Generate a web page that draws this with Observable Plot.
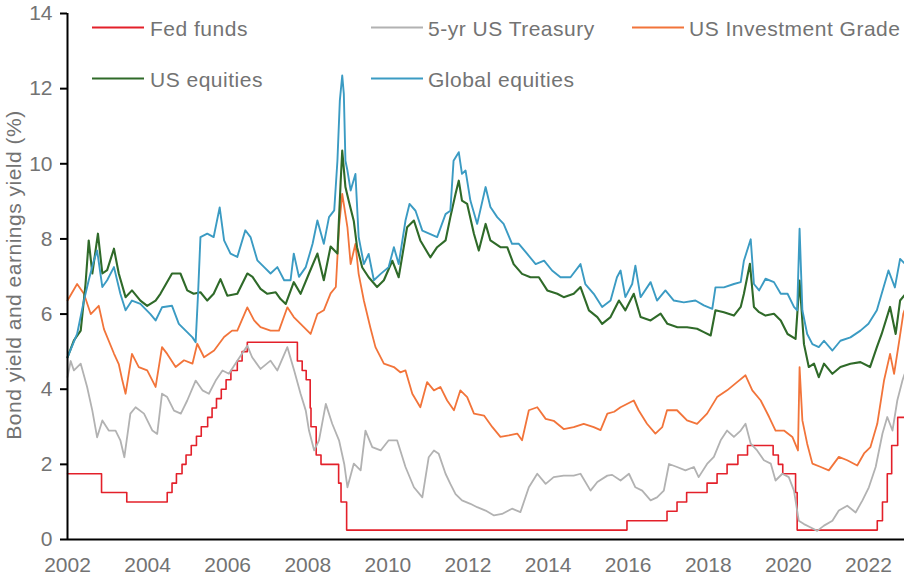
<!DOCTYPE html>
<html>
<head>
<meta charset="utf-8">
<script src="https://cdn.jsdelivr.net/npm/d3@7"></script>
<script src="https://cdn.jsdelivr.net/npm/@observablehq/plot@0.6"></script>
<style>
  html, body { margin: 0; padding: 0; background: #fff; }
  #wrap { position: relative; width: 904px; height: 580px; font-family: "Liberation Sans", Arial, sans-serif; }
  #overlay { position: absolute; left: 0; top: 0; pointer-events: none; }
  #overlay text { font-family: "Liberation Sans", Arial, sans-serif; fill: #737373; }
</style>
</head>
<body>
<div id="wrap"></div>
<script>
// ---- Data (decimal year, %) ----
const seriesNames = ["Fed funds", "5-yr US Treasury", "US Investment Grade", "US equities", "Global equities"];
const seriesColors = ["#e3202a", "#b2b2b2", "#f2743a", "#2f6a29", "#3b9bc3"];
const xTicks = [2002, 2004, 2006, 2008, 2010, 2012, 2014, 2016, 2018, 2020, 2022];
const yTicks = [0, 2, 4, 6, 8, 10, 12, 14];

const fedFunds = [
  [2002.0,1.75],[2002.85,1.25],[2003.48,1.00],[2004.49,1.25],[2004.61,1.50],[2004.72,1.75],
  [2004.86,2.00],[2004.96,2.25],[2005.09,2.50],[2005.22,2.75],[2005.34,3.00],[2005.50,3.25],
  [2005.61,3.50],[2005.72,3.75],[2005.84,4.00],[2005.96,4.25],[2006.08,4.50],[2006.24,4.75],
  [2006.36,5.00],[2006.49,5.25],[2007.74,4.75],[2007.86,4.50],[2007.96,4.25],[2008.06,3.50],
  [2008.08,3.00],[2008.21,2.25],[2008.33,2.00],[2008.77,1.50],[2008.83,1.00],[2008.97,0.25],
  [2015.97,0.50],[2016.97,0.75],[2017.22,1.00],[2017.46,1.25],[2017.97,1.50],[2018.22,1.75],
  [2018.47,2.00],[2018.74,2.25],[2018.98,2.50],[2019.62,2.25],[2019.75,2.00],[2019.86,1.75],
  [2020.18,1.25],[2020.22,0.25],[2022.22,0.50],[2022.35,1.00],[2022.47,1.75],[2022.58,2.50],
  [2022.73,3.25],[2022.9,3.25]
];

const treasury5y = [
  [2002.0,4.32],[2002.08,4.75],[2002.16,4.5],[2002.33,4.68],[2002.49,4.06],[2002.62,3.43],[2002.74,2.72],
  [2002.87,3.17],[2003.03,2.9],[2003.2,2.9],[2003.32,2.64],[2003.42,2.19],[2003.57,3.35],
  [2003.7,3.52],[2003.91,3.35],[2004.12,2.9],[2004.24,2.81],[2004.36,3.88],[2004.49,3.79],
  [2004.66,3.43],[2004.83,3.35],[2004.99,3.7],[2005.2,4.23],[2005.37,3.97],[2005.53,3.88],
  [2005.7,4.23],[2005.87,4.5],[2006.03,4.41],[2006.24,4.76],[2006.49,5.16],[2006.61,4.85],
  [2006.82,4.54],[2007.07,4.76],[2007.24,4.5],[2007.49,5.12],[2007.66,4.5],[2007.82,3.88],
  [2007.95,3.43],[2008.03,2.9],[2008.16,2.37],[2008.28,2.64],[2008.45,3.61],[2008.61,3.08],
  [2008.78,2.64],[2008.91,2.01],[2008.99,1.39],[2009.15,2.02],[2009.32,1.84],[2009.44,2.9],
  [2009.61,2.46],[2009.82,2.37],[2010.02,2.64],[2010.23,2.64],[2010.44,1.93],[2010.65,1.39],
  [2010.86,1.12],[2011.02,2.19],[2011.15,2.37],[2011.27,2.28],[2011.44,1.75],[2011.56,1.48],
  [2011.69,1.21],[2011.85,1.04],[2012.06,0.95],[2012.23,0.86],[2012.44,0.77],[2012.65,0.64],
  [2012.85,0.68],[2013.1,0.82],[2013.31,0.73],[2013.52,1.39],[2013.73,1.75],[2013.94,1.48],
  [2014.14,1.66],[2014.39,1.7],[2014.64,1.7],[2014.81,1.75],[2015.06,1.3],[2015.23,1.53],
  [2015.48,1.7],[2015.6,1.72],[2015.81,1.57],[2016.02,1.75],[2016.18,1.39],[2016.35,1.3],
  [2016.56,1.04],[2016.72,1.12],[2016.89,1.3],[2017.02,2.01],[2017.22,1.93],[2017.43,1.84],
  [2017.64,1.93],[2017.76,1.66],[2017.97,2.01],[2018.14,2.2],[2018.31,2.64],[2018.47,2.9],
  [2018.64,2.73],[2018.81,2.9],[2018.93,3.08],[2019.06,2.55],[2019.22,2.37],[2019.39,2.11],
  [2019.56,2.02],[2019.68,1.57],[2019.85,1.75],[2020.01,1.66],[2020.14,1.3],[2020.26,0.5],
  [2020.39,0.41],[2020.56,0.32],[2020.72,0.23],[2020.89,0.37],[2021.1,0.5],[2021.26,0.77],
  [2021.47,0.9],[2021.68,0.72],[2021.85,1.04],[2022.01,1.39],[2022.18,1.93],[2022.35,2.82],
  [2022.47,3.26],[2022.6,2.9],[2022.72,3.7],[2022.85,4.24],[2022.9,4.4]
];

const usInvGrade = [
  [2002.0,6.36],[2002.24,6.8],[2002.41,6.54],[2002.58,6.0],[2002.78,6.22],[2002.91,5.6],
  [2003.16,4.95],[2003.28,4.67],[2003.37,4.23],[2003.45,3.88],[2003.61,4.94],[2003.78,4.59],
  [2003.99,4.5],[2004.2,4.06],[2004.36,5.12],[2004.49,4.94],[2004.7,4.59],[2004.91,4.77],
  [2005.12,4.68],[2005.24,5.21],[2005.41,4.85],[2005.66,5.03],[2005.91,5.39],[2006.11,5.56],
  [2006.24,5.56],[2006.49,6.18],[2006.66,5.83],[2006.82,5.65],[2007.07,5.56],[2007.28,5.56],
  [2007.49,6.18],[2007.65,5.92],[2007.82,5.74],[2008.07,5.47],[2008.24,6.0],[2008.4,6.1],
  [2008.57,6.55],[2008.7,6.72],[2008.78,8.31],[2008.86,9.2],[2008.99,8.31],[2009.07,7.33],
  [2009.19,7.87],[2009.27,7.07],[2009.4,6.36],[2009.56,5.65],[2009.69,5.12],[2009.9,4.68],
  [2010.15,4.59],[2010.31,4.45],[2010.44,4.5],[2010.61,3.88],[2010.81,3.52],[2010.98,4.19],
  [2011.15,3.97],[2011.31,4.06],[2011.48,3.7],[2011.65,3.44],[2011.81,3.97],[2011.98,3.79],
  [2012.15,3.35],[2012.4,3.3],[2012.61,2.99],[2012.81,2.73],[2013.02,2.77],[2013.23,2.82],
  [2013.35,2.64],[2013.52,3.44],[2013.73,3.52],[2013.94,3.21],[2014.14,3.16],[2014.39,2.94],
  [2014.64,2.99],[2014.89,3.08],[2015.14,2.99],[2015.31,2.91],[2015.48,3.35],[2015.65,3.4],
  [2015.81,3.52],[2016.14,3.7],[2016.26,3.44],[2016.47,3.08],[2016.68,2.82],[2016.85,2.99],
  [2016.97,3.44],[2017.22,3.44],[2017.47,3.17],[2017.72,3.08],[2017.97,3.35],[2018.22,3.79],
  [2018.47,3.97],[2018.72,4.19],[2018.93,4.37],[2019.1,3.97],[2019.31,3.7],[2019.52,3.26],
  [2019.68,2.9],[2019.89,2.9],[2020.1,2.73],[2020.24,2.37],[2020.28,4.59],[2020.35,3.17],
  [2020.47,2.55],[2020.6,2.02],[2020.81,1.93],[2021.01,1.84],[2021.26,2.2],[2021.47,2.11],
  [2021.72,1.97],[2021.89,2.29],[2022.05,2.46],[2022.22,3.08],[2022.39,4.24],[2022.54,4.94],
  [2022.64,4.41],[2022.77,5.3],[2022.87,6.01],[2022.9,6.1]
];

const usEquities = [
  [2002.0,4.85],[2002.16,5.3],[2002.33,5.56],[2002.45,6.8],[2002.53,7.96],[2002.62,7.08],
  [2002.76,8.14],[2002.87,7.08],[2002.99,7.17],[2003.16,7.74],[2003.28,7.08],[2003.45,6.45],
  [2003.61,6.63],[2003.82,6.36],[2003.99,6.22],[2004.2,6.36],[2004.32,6.54],[2004.61,7.08],
  [2004.82,7.08],[2004.99,6.63],[2005.15,6.54],[2005.32,6.58],[2005.49,6.36],[2005.65,6.54],
  [2005.82,6.93],[2005.99,6.49],[2006.24,6.54],[2006.49,7.08],[2006.62,6.99],[2006.82,6.67],
  [2006.99,6.54],[2007.2,6.58],[2007.32,6.4],[2007.45,6.27],[2007.65,6.85],[2007.82,6.54],
  [2008.03,7.08],[2008.24,7.61],[2008.4,6.9],[2008.57,7.8],[2008.74,7.61],[2008.82,9.5],
  [2008.86,10.35],[2008.94,9.38],[2009.02,9.02],[2009.15,8.47],[2009.23,7.78],[2009.36,7.24],
  [2009.52,6.98],[2009.73,6.72],[2009.9,6.9],[2010.11,7.42],[2010.27,6.98],[2010.48,8.31],
  [2010.65,8.49],[2010.81,7.96],[2011.06,7.51],[2011.23,7.78],[2011.44,7.96],[2011.56,8.58],
  [2011.69,9.2],[2011.77,9.55],[2011.85,9.02],[2011.98,8.93],[2012.15,8.13],[2012.27,7.69],
  [2012.44,8.4],[2012.56,7.96],[2012.81,7.78],[2012.98,7.78],[2013.14,7.33],[2013.35,7.07],
  [2013.56,6.98],[2013.77,6.98],[2013.98,6.63],[2014.23,6.54],[2014.39,6.45],[2014.64,6.54],
  [2014.81,6.72],[2015.02,6.1],[2015.23,5.92],[2015.35,5.74],[2015.56,5.92],[2015.77,6.36],
  [2015.93,6.1],[2016.14,6.54],[2016.31,5.92],[2016.56,5.83],[2016.81,6.01],[2016.98,5.74],
  [2017.23,5.65],[2017.47,5.65],[2017.72,5.61],[2017.89,5.52],[2018.06,5.43],[2018.18,6.1],
  [2018.39,6.05],[2018.64,5.96],[2018.81,6.19],[2018.89,6.54],[2019.04,7.34],[2019.14,6.19],
  [2019.27,6.05],[2019.43,5.96],[2019.64,6.01],[2019.81,5.83],[2019.98,5.47],[2020.18,5.34],
  [2020.28,6.89],[2020.39,5.2],[2020.51,4.59],[2020.64,4.68],[2020.76,4.32],[2020.89,4.68],
  [2021.1,4.41],[2021.3,4.59],[2021.55,4.68],[2021.8,4.72],[2022.04,4.59],[2022.21,5.12],
  [2022.33,5.47],[2022.54,6.19],[2022.68,5.47],[2022.79,6.36],[2022.9,6.5]
];

const globalEquities = [
  [2002.0,4.85],[2002.24,5.47],[2002.41,6.36],[2002.53,6.9],[2002.66,7.43],[2002.74,7.69],
  [2002.87,6.72],[2002.99,6.9],[2003.16,7.25],[2003.32,6.54],[2003.45,6.1],[2003.61,6.36],
  [2003.82,6.27],[2004.07,6.0],[2004.2,5.83],[2004.36,6.18],[2004.61,6.22],[2004.78,5.74],
  [2004.95,5.56],[2005.12,5.38],[2005.2,5.25],[2005.26,6.54],[2005.32,8.05],[2005.49,8.14],
  [2005.65,8.05],[2005.8,8.84],[2005.91,7.96],[2006.07,7.61],[2006.24,7.52],[2006.44,8.23],
  [2006.57,8.05],[2006.74,7.43],[2006.91,7.25],[2007.07,7.08],[2007.24,7.25],[2007.41,6.9],
  [2007.57,6.9],[2007.65,7.61],[2007.78,6.99],[2007.95,7.25],[2008.12,7.87],[2008.24,8.49],
  [2008.4,7.87],[2008.53,8.58],[2008.66,8.76],[2008.74,10.08],[2008.8,11.68],[2008.86,12.35],
  [2008.9,11.86],[2008.94,10.08],[2008.99,9.82],[2009.07,9.29],[2009.19,9.73],[2009.27,8.05],
  [2009.4,7.33],[2009.52,7.6],[2009.65,6.9],[2009.82,7.07],[2010.02,7.25],[2010.15,7.78],
  [2010.27,7.33],[2010.44,8.49],[2010.54,8.93],[2010.69,8.75],[2010.86,8.22],[2011.06,8.13],
  [2011.23,8.05],[2011.44,8.66],[2011.56,8.75],[2011.64,10.08],[2011.77,10.31],[2011.85,9.73],
  [2011.94,9.82],[2012.06,9.02],[2012.23,8.4],[2012.44,9.38],[2012.56,8.85],[2012.73,8.58],
  [2012.89,8.4],[2013.1,7.87],[2013.27,7.87],[2013.48,7.6],[2013.69,7.33],[2013.9,7.42],
  [2014.1,7.16],[2014.31,6.98],[2014.56,6.98],[2014.81,7.33],[2014.93,6.8],[2015.14,6.54],
  [2015.35,6.19],[2015.56,6.36],[2015.72,6.98],[2015.81,7.16],[2015.93,6.45],[2016.1,6.8],
  [2016.18,7.29],[2016.31,6.45],[2016.56,6.85],[2016.72,6.36],[2016.93,6.63],[2017.14,6.36],
  [2017.39,6.31],[2017.68,6.36],[2017.89,6.23],[2018.1,6.14],[2018.18,6.71],[2018.39,6.71],
  [2018.64,6.8],[2018.81,6.85],[2018.89,7.42],[2019.06,7.99],[2019.14,6.8],[2019.27,6.63],
  [2019.43,6.94],[2019.64,6.85],[2019.81,6.54],[2019.98,6.54],[2020.14,6.19],[2020.22,6.1],
  [2020.28,8.27],[2020.35,6.1],[2020.47,5.47],[2020.6,5.2],[2020.76,5.12],[2020.89,5.29],
  [2021.1,5.03],[2021.3,5.29],[2021.55,5.38],[2021.8,5.56],[2022.0,5.74],[2022.21,6.1],
  [2022.33,6.54],[2022.5,7.16],[2022.66,6.71],[2022.79,7.47],[2022.9,7.35]
];

const allSeries = [fedFunds, treasury5y, usInvGrade, usEquities, globalEquities];
const seriesWidths = [1.6, 1.8, 1.8, 2.1, 1.9];

// ---- Chart ----
const lineMarks = allSeries.map((s, i) =>
  Plot.line(s, {
    x: d => d[0], y: d => d[1],
    stroke: seriesColors[i],
    strokeWidth: seriesWidths[i],
    curve: i === 0 ? "step-after" : "linear"
  })
);

const chart = Plot.plot({
  width: 904,
  height: 580,
  marginLeft: 67,
  marginRight: 0,
  marginTop: 13,
  marginBottom: 41,
  style: { fontFamily: "Liberation Sans, Arial, sans-serif", fontSize: "21px", background: "#fff", overflow: "visible" },
  x: { domain: [2002, 2022.9] },
  y: { domain: [0, 14] },
  marks: [
    ...lineMarks,
    Plot.ruleX([2002], { stroke: "black", strokeWidth: 2 }),
    Plot.ruleY([0], { stroke: "black", strokeWidth: 2 }),
    Plot.axisY({ ticks: yTicks, tickSize: 7, tickPadding: 8, label: null, stroke: "black", strokeWidth: 2, fill: "#737373", tickFormat: d => String(d) }),
    Plot.axisX({ ticks: xTicks, tickSize: 0, tickPadding: 18, label: null, fill: "#737373", tickFormat: d => String(d) })
  ]
});

const wrap = document.getElementById("wrap");
wrap.appendChild(chart);

// ---- Legend (inside plot area) and y-axis title ----
const legendItems = [
  { name: seriesNames[0], color: seriesColors[0], x1: 92, x2: 144, tx: 150, row: 0 },
  { name: seriesNames[1], color: seriesColors[1], x1: 371, x2: 423, tx: 428, row: 0 },
  { name: seriesNames[2], color: seriesColors[2], x1: 632, x2: 684, tx: 689, row: 0 },
  { name: seriesNames[3], color: seriesColors[3], x1: 92, x2: 144, tx: 150, row: 1 },
  { name: seriesNames[4], color: seriesColors[4], x1: 371, x2: 423, tx: 428, row: 1 }
];
const rowLineY = [27.5, 78.5];
const rowBase = [36, 87];

const ov = d3.select(wrap).append("svg")
  .attr("id", "overlay").attr("width", 904).attr("height", 580);
const lg = ov.selectAll("g.item").data(legendItems).join("g").attr("class", "item");
lg.append("line")
  .attr("x1", d => d.x1).attr("x2", d => d.x2)
  .attr("y1", d => rowLineY[d.row]).attr("y2", d => rowLineY[d.row])
  .attr("stroke", d => d.color).attr("stroke-width", 2.2);
lg.append("text")
  .attr("x", d => d.tx).attr("y", d => rowBase[d.row])
  .attr("font-size", 21).attr("letter-spacing", 0.5)
  .text(d => d.name);

ov.append("text")
  .attr("transform", "translate(21,275) rotate(-90)")
  .attr("text-anchor", "middle")
  .attr("font-size", 21)
  .attr("letter-spacing", 0.5)
  .text("Bond yield and earnings yield (%)");
</script>
</body>
</html>
